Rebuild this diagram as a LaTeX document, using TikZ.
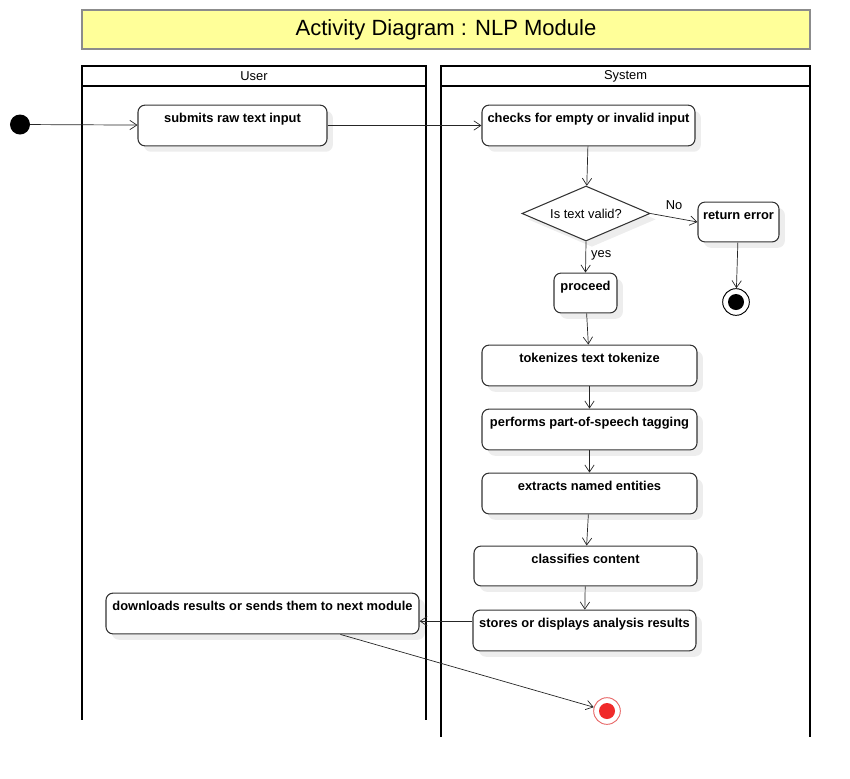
\documentclass[tikz,border=0pt]{standalone}
\usepackage{fontspec}
\setmainfont{Liberation Sans}
\usetikzlibrary{arrows.meta,shapes.geometric,shadows,calc}
\definecolor{titleyellow}{HTML}{FFFF99}
\definecolor{titleframe}{HTML}{8C8C8C}
\definecolor{endred}{HTML}{F02A2A}
\definecolor{ringred}{HTML}{E86A6A}

\begin{document}
\begin{tikzpicture}[x=0.03cm,y=-0.03cm,
  font=\fontsize{11}{13}\selectfont,
  lane/.style={draw=black,line width=1.8pt},
  act/.style={draw=black!80,line width=0.9pt,rounded corners=6pt,fill=white,
    font=\fontsize{11}{13}\selectfont\bfseries,
    inner xsep=2pt,inner ysep=3pt,text height=11.5pt,text depth=17.3pt,
    drop shadow={shadow xshift=5pt,shadow yshift=-5pt,fill=black!7,opacity=1}},
  decision/.style={diamond,draw=black!80,line width=0.9pt,fill=white,aspect=2.3,
    inner sep=0pt,minimum width=3.84cm,minimum height=1.65cm,
    drop shadow={shadow xshift=5pt,shadow yshift=-5pt,fill=black!7,opacity=1}},
  startdot/.style={circle,fill=black,inner sep=0pt,minimum size=0.6cm},
  stopdot/.style={circle,draw=#1,line width=0.8pt,fill=white,inner sep=0pt,
    minimum size=0.8cm,
    path picture={\fill[#1] (path picture bounding box.center) circle (0.24cm);}},
  flow/.style={-{Straight Barb[length=6pt,width=8pt]},line width=0.6pt,draw=black!85},
  guard/.style={font=\fontsize{11}{13}\selectfont}]

  \useasboundingbox (0,0) rectangle (850,778);

  % title
  \node[draw=titleframe,line width=1.7pt,fill=titleyellow,minimum width=21.84cm,
    minimum height=1.17cm,font=\fontsize{18.8}{22}\selectfont] (title) at (446,29.5)
    {Activity Diagram : NLP Module};

  % swimlanes
  \draw[lane] (82,66) rectangle (426,86);
  \draw[lane] (82,86) -- (82,720) (426,86) -- (426,720);
  \node (userlane) at (254,76) {User};
  \draw[lane] (441,66) rectangle (810,86);
  \draw[lane] (441,86) -- (441,737) (810,86) -- (810,737);
  \node (syslane) at (625.5,76) {System};

  % actions
  \node[startdot] (start) at (20,124.5) {};
  \node[act,minimum width=5.67cm] (submit) at (232.5,125.5) {submits raw text input};
  \node[act,minimum width=6.39cm] (check) at (588.5,125.5) {checks for empty or invalid input};
  \node[decision] (valid) at (586,213.5) {Is text valid?};
  \node[act,minimum width=2.43cm,text depth=16.5pt] (error) at (738.5,222) {return error};
  \node[stopdot=black] (stoperr) at (736,302) {};
  \node[act,minimum width=1.89cm,text depth=16.5pt] (proceed) at (585.5,293) {proceed};
  \node[act,minimum width=6.45cm] (tokenize) at (589.5,365.5) {tokenizes text tokenize};
  \node[act,minimum width=6.45cm] (postag) at (589.5,429.5) {performs part-of-speech tagging};
  \node[act,minimum width=6.45cm] (entities) at (589.5,493.5) {extracts named entities};
  \node[act,minimum width=6.69cm,text depth=16.5pt] (classify) at (585.5,566) {classifies content};
  \node[act,minimum width=6.69cm] (store) at (584.5,630.5) {stores or displays analysis results};
  \node[act,minimum width=9.39cm] (download) at (262.5,613.5) {downloads results or sends them to next module};
  \node[stopdot=ringred,draw=ringred,path picture={\fill[endred] (path picture bounding box.center) circle (0.24cm);}] (stopok) at (607,711) {};

  % connectors
  \draw[flow] (start) -- (submit);
  \draw[flow] (submit) -- (check);
  \draw[flow] (check) -- (valid);
  \draw[flow] (valid.east) -- (error.west) node[guard,pos=0.5,above=3pt] (no) {No};
  \draw[flow] (valid.south) -- (proceed.north) node[guard,pos=0.45,right=1pt] (yes) {yes};
  \draw[flow] (error) -- (stoperr);
  \draw[flow] (proceed) -- (tokenize);
  \draw[flow] (tokenize) -- (postag);
  \draw[flow] (postag) -- (entities);
  \draw[flow] (entities) -- (classify);
  \draw[flow] (classify) -- (store);
  \coordinate (back) at ([yshift=8pt]store.west);
  \draw[flow] (back) -- (back -| download.east);
  \draw[flow] ($(download.south west)!0.748!(download.south east)$) -- (stopok);
\end{tikzpicture}
\end{document}
